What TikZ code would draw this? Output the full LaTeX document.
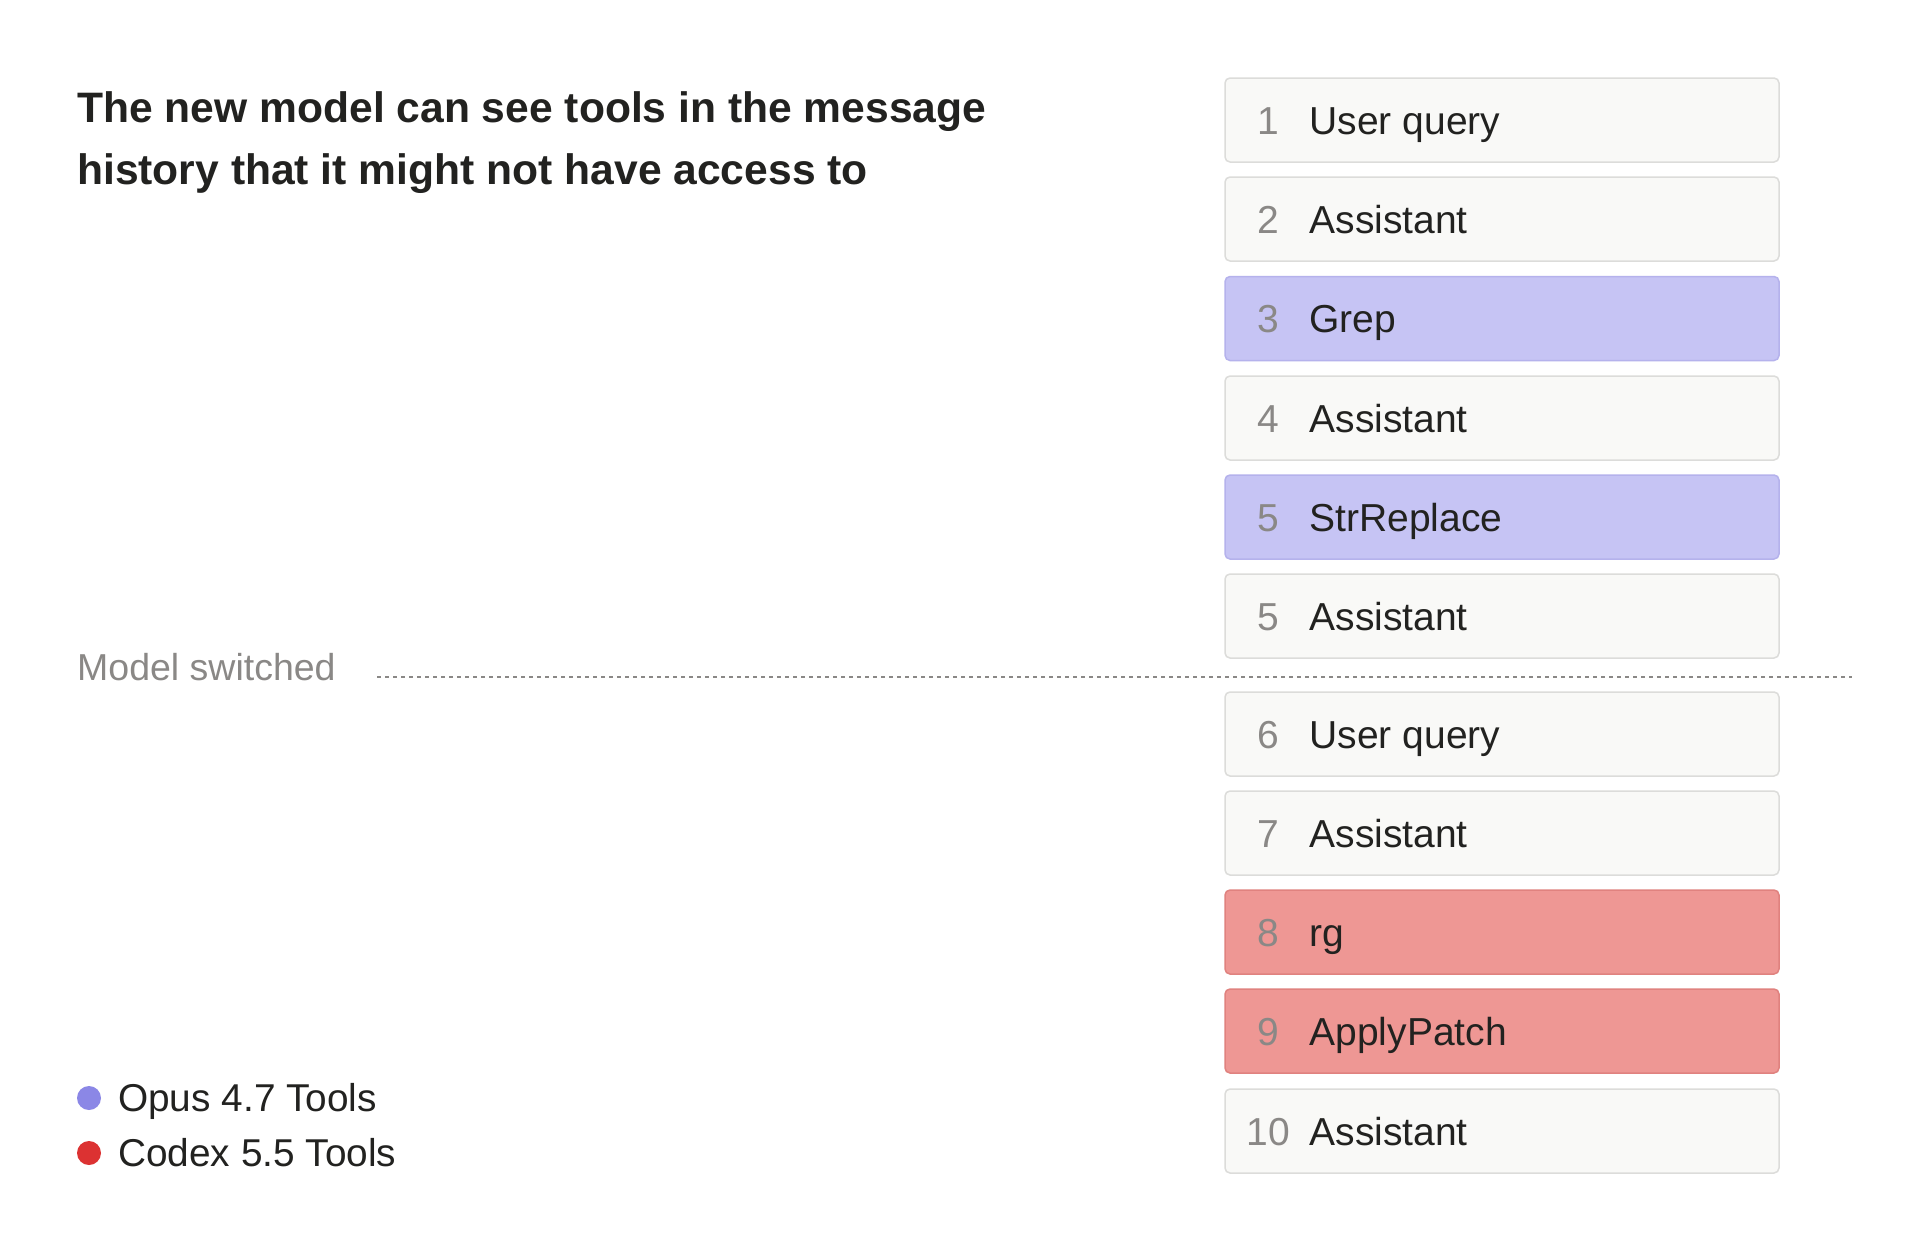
\documentclass[tikz,border=0pt]{standalone}
\usepackage{fontspec}
\setmainfont{Liberation Sans}
\definecolor{wfill}{HTML}{F9F9F7}\definecolor{wdraw}{HTML}{DCDCDA}
\definecolor{pfill}{HTML}{C6C4F4}\definecolor{pdraw}{HTML}{B5B2EC}
\definecolor{rfill}{HTML}{EE9794}\definecolor{rdraw}{HTML}{E0827F}
\definecolor{numc}{HTML}{8A8886}\definecolor{txt}{HTML}{222220}
\definecolor{pdot}{HTML}{8B87E6}\definecolor{rdot}{HTML}{DC3232}
\begin{document}
\begin{tikzpicture}[x=1pt,y=-1pt,
 row/.style={draw=wdraw,fill=wfill,line width=1.5pt,rounded corners=5pt,minimum width=554pt,minimum height=84pt,inner sep=0pt},
 num/.style={text=numc,font=\fontsize{39}{44}\selectfont,anchor=base},
 lab/.style={text=txt,font=\fontsize{39}{44}\selectfont,anchor=base west}]
\useasboundingbox (0,0) rectangle (1920,1253);
\fill[white] (0,0) rectangle (1920,1253);
\node[anchor=base west,text=txt,font=\bfseries\fontsize{42.6}{61.5}\selectfont,align=left,inner sep=0pt] (title) at (77,184) {The new model can see tools in the message\\history that it might not have access to};
\def\rows{1/1/User query/w/120,2/2/Assistant/w/219,3/3/Grep/p/318.5,4/4/Assistant/w/418,5/5/StrReplace/p/517,6/5/Assistant/w/616,7/6/User query/w/734,8/7/Assistant/w/833,9/8/rg/r/932,10/9/ApplyPatch/r/1031,11/10/Assistant/w/1131}
\foreach \i/\n/\t/\c/\y in \rows {
  \node[row,draw=\c draw,fill=\c fill] (r\i) at (1502,\y) {};
  \node[num] (n\i) at ([xshift=-234pt,yshift=-14pt]r\i.center) {\n};
  \node[lab] (l\i) at ([xshift=-196pt,yshift=-14pt]r\i.center) {\t};
}
\node[anchor=base west,text=numc,font=\fontsize{37.5}{40}\selectfont,inner sep=0pt] (ms) at (77,680) {Model switched};
\coordinate (d1) at (377,677); \coordinate (d2) at (1852,677);
\draw[numc,line width=1.5pt,dash pattern=on 4pt off 4pt] (d1) -- (d2);
\fill[pdot] (89,1098) circle (12pt);
\fill[rdot] (89,1153) circle (12pt);
\node[anchor=base west,text=txt,font=\fontsize{38.8}{40}\selectfont,inner sep=0pt] (lg1) at (118,1111) {Opus 4.7 Tools};
\node[anchor=base west,text=txt,font=\fontsize{38.8}{40}\selectfont,inner sep=0pt] (lg2) at (118,1166) {Codex 5.5 Tools};
\end{tikzpicture}
\end{document}
